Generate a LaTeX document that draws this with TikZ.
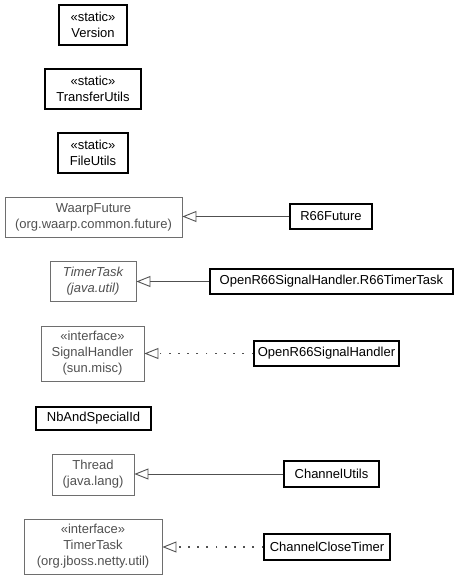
\documentclass[tikz,border=0pt]{standalone}
\usepackage{fontspec}
\setmainfont{Liberation Sans}
\usepackage{tikz}
\usepackage{xcolor}
\usetikzlibrary{arrows.meta, positioning}
\definecolor{cLine}{RGB}{80,80,80}
\definecolor{cGray}{RGB}{110,110,110}
\definecolor{cText}{RGB}{80,80,80}
\tikzset{
	cls/.style     ={rectangle, draw=black, line width=1.3pt, inner sep=0pt, align=center, text=black},
	extcls/.style  ={rectangle, draw=cGray, line width=0.9pt, inner sep=0pt, align=center, text=cText},
	inherit/.style ={-{Triangle[open, length=14pt, width=11pt, line width=0.9pt]}, draw=cLine, line width=0.9pt},
	realize/.style ={-{Triangle[open, length=14pt, width=11pt, line width=0.9pt]}, draw=cLine, line width=1.8pt, dash pattern=on 1.8pt off 7.4pt},
}

\begin{document}
\begin{tikzpicture}[x=1pt, y=-1pt, font=\fontsize{13}{16}\selectfont]
	\useasboundingbox (0,0) rectangle (459,579);
	% static helper classes
	\node[cls, minimum width=68pt, minimum height=40pt] (version) at (93,25) {«static»\\Version};
	\node[cls, minimum width=96pt, minimum height=40pt] (transferutils) at (93,89) {«static»\\TransferUtils};
	\node[cls, minimum width=70pt, minimum height=40pt] (fileutils) at (93,153) {«static»\\FileUtils};
	% futures
	\node[extcls, minimum width=177pt, minimum height=40pt] (waarpfuture) at (93.5,217) {WaarpFuture\\(org.waarp.common.future)};
	\node[cls, minimum width=82pt, minimum height=25pt] (r66future) at (331,216.5) {R66Future};
	% signal handling
	\node[extcls, minimum width=86pt, minimum height=40pt, font=\fontsize{13}{16}\selectfont\itshape] (timertask) at (93,281) {TimerTask\\(java.util)};
	\node[cls, minimum width=243pt, minimum height=25pt] (r66timertask) at (331.5,281.5) {OpenR66SignalHandler.R66TimerTask};
	\node[extcls, minimum width=103pt, minimum height=55pt] (signalhandler) at (92.5,353.5) {«interface»\\SignalHandler\\(sun.misc)};
	\node[cls, minimum width=145pt, minimum height=25pt] (opensignal) at (326.5,353.5) {OpenR66SignalHandler};
	\node[cls, minimum width=115pt, minimum height=23pt] (nbspecial) at (93.5,418.5) {NbAndSpecialId};
	% channels
	\node[extcls, minimum width=82pt, minimum height=41pt] (thread) at (93,474.5) {Thread\\(java.lang)};
	\node[cls, minimum width=95pt, minimum height=26pt] (channelutils) at (331.5,474) {ChannelUtils};
	\node[extcls, minimum width=138pt, minimum height=55pt] (nettytimer) at (93,546.5) {«interface»\\TimerTask\\(org.jboss.netty.util)};
	\node[cls, minimum width=126pt, minimum height=26pt] (closetimer) at (327,547) {ChannelCloseTimer};

	\draw[inherit] (r66future.west) -- (waarpfuture.east |- r66future.west);
	\draw[inherit] (r66timertask.west) -- (timertask.east |- r66timertask.west);
	\draw[realize] (opensignal.west) -- (signalhandler.east |- opensignal.west);
	\draw[inherit] (channelutils.west) -- (thread.east |- channelutils.west);
	\draw[realize] (closetimer.west) -- (nettytimer.east |- closetimer.west);
\end{tikzpicture}
\end{document}
